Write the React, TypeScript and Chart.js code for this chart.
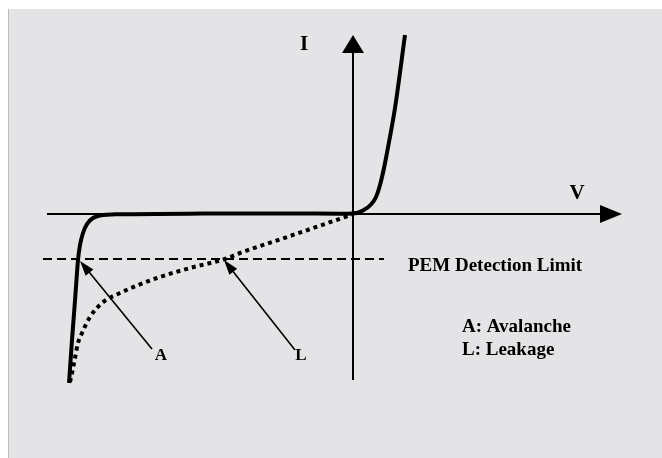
import React, { useEffect, useRef } from "react";
import { Chart, registerables } from "chart.js";

Chart.register(...registerables);

// Avalanche / forward characteristic (solid): V and I in arbitrary units
const solidV = [-28.4, -28.1, -27.87, -27.68, -27.5, -27.3, -27.0, -26.6, -26.0, -25.3, -23.3, -15.0, -6.0, -1.3, 0.0, 1.0, 1.8, 2.3, 2.7, 3.1, 3.6, 4.2, 5.2];
const solidI = [-16.9, -12.6, -9.6, -7.0, -4.6, -3.1, -1.9, -1.0, -0.4, -0.15, -0.03, 0.04, 0.05, 0.03, 0.05, 0.35, 0.95, 1.7, 2.9, 4.6, 7.2, 10.6, 17.9];

// Leakage characteristic (dotted)
const leakV = [-28.3, -28.1, -27.8, -27.5, -27.1, -26.3, -25.1, -23.3, -19.6, -16.3, -12.8, -11.3, -6.3, -1.8, -0.1];
const leakI = [-16.8, -15.9, -14.4, -12.9, -11.9, -10.3, -8.9, -7.9, -6.4, -5.4, -4.5, -3.9, -2.2, -0.65, -0.05];

// PEM detection limit (dashed)
const limitI = -4.5;
const limitV = [-31.0, 3.1];

// Axes extents
const axisV = [-30.6, 26.9];
const axisI = [-16.6, 17.9];

// Pointer arrows (A, L)
const pointerLabels = ["A", "L"];
const pointerFromV = [-20.1, -5.8];
const pointerFromI = [-13.5, -13.6];
const pointerToV = [-27.3, -12.9];
const pointerToI = [-4.7, -4.6];
const pointerLabelV = [-19.2, -5.2];
const pointerLabelI = [-14.2, -14.2];

// Text labels
const axisLabels = ["I", "V"];
const axisLabelV = [-4.9, 22.4];
const axisLabelI = [16.9, 2.0];
const noteTexts = ["PEM Detection Limit", "A: Avalanche", "L: Leakage"];
const noteV = [5.5, 10.9, 10.9];
const noteI = [-5.2, -11.35, -13.65];

const FONT = "'Liberation Serif', 'Times New Roman', serif";

function drawArrow(ctx: CanvasRenderingContext2D, x1: number, y1: number, x2: number, y2: number, lw: number, hl: number, hw: number) {
  const dx = x2 - x1, dy = y2 - y1;
  const len = Math.hypot(dx, dy);
  const ux = dx / len, uy = dy / len;
  const bx = x2 - ux * hl, by = y2 - uy * hl;
  ctx.save();
  ctx.strokeStyle = "#000";
  ctx.fillStyle = "#000";
  ctx.lineWidth = lw;
  ctx.setLineDash([]);
  ctx.beginPath();
  ctx.moveTo(x1, y1);
  ctx.lineTo(bx + ux * 1, by + uy * 1);
  ctx.stroke();
  ctx.beginPath();
  ctx.moveTo(x2, y2);
  ctx.lineTo(bx - uy * hw / 2, by + ux * hw / 2);
  ctx.lineTo(bx + uy * hw / 2, by - ux * hw / 2);
  ctx.closePath();
  ctx.fill();
  ctx.restore();
}

const axesPlugin = {
  id: "axesArrows",
  beforeDatasetsDraw(chart: any) {
    const ctx = chart.ctx;
    const xs = chart.scales.x, ys = chart.scales.y;
    const y0 = ys.getPixelForValue(0), x0 = xs.getPixelForValue(0);
    drawArrow(ctx, xs.getPixelForValue(axisV[0]), y0, xs.getPixelForValue(axisV[1]), y0, 2, 22, 18);
    drawArrow(ctx, x0, ys.getPixelForValue(axisI[0]), x0, ys.getPixelForValue(axisI[1]), 2, 18, 22);
  },
  afterDatasetsDraw(chart: any) {
    const ctx = chart.ctx;
    const xs = chart.scales.x, ys = chart.scales.y;
    for (let k = 0; k < pointerLabels.length; k++) {
      drawArrow(
        ctx,
        xs.getPixelForValue(pointerFromV[k]), ys.getPixelForValue(pointerFromI[k]),
        xs.getPixelForValue(pointerToV[k]), ys.getPixelForValue(pointerToI[k]),
        1.6, 15, 10
      );
    }
    ctx.save();
    ctx.fillStyle = "#000";
    ctx.textBaseline = "middle";
    ctx.textAlign = "center";
    ctx.font = `bold 17px ${FONT}`;
    for (let k = 0; k < pointerLabels.length; k++) {
      ctx.fillText(pointerLabels[k], xs.getPixelForValue(pointerLabelV[k]), ys.getPixelForValue(pointerLabelI[k]));
    }
    ctx.font = `bold 21px ${FONT}`;
    for (let k = 0; k < axisLabels.length; k++) {
      ctx.fillText(axisLabels[k], xs.getPixelForValue(axisLabelV[k]), ys.getPixelForValue(axisLabelI[k]));
    }
    ctx.textAlign = "left";
    ctx.font = `bold 19px ${FONT}`;
    for (let k = 0; k < noteTexts.length; k++) {
      ctx.fillText(noteTexts[k], xs.getPixelForValue(noteV[k]), ys.getPixelForValue(noteI[k]));
    }
    ctx.restore();
  },
};

export default function App() {
  const ref = useRef<HTMLCanvasElement | null>(null);
  useEffect(() => {
    if (!ref.current) return;
    const solid = solidV.map((v, i) => ({ x: v, y: solidI[i] }));
    const leak = leakV.map((v, i) => ({ x: v, y: leakI[i] }));
    const limit = limitV.map((v) => ({ x: v, y: limitI }));
    const chart = new Chart(ref.current, {
      type: "scatter",
      data: {
        datasets: [
          {
            label: "Avalanche",
            data: solid,
            showLine: true,
            borderColor: "#000",
            borderWidth: 4,
            pointRadius: 0,
            cubicInterpolationMode: "monotone",
            clip: false,
          } as any,
          {
            label: "Leakage",
            data: leak,
            showLine: true,
            borderColor: "#000",
            borderWidth: 4,
            borderDash: [4, 4],
            borderCapStyle: "butt",
            pointRadius: 0,
            cubicInterpolationMode: "monotone",
            clip: false,
          } as any,
          {
            label: "PEM Detection Limit",
            data: limit,
            showLine: true,
            borderColor: "#000",
            borderWidth: 1.8,
            borderDash: [9, 5],
            pointRadius: 0,
            clip: false,
          } as any,
        ],
      },
      options: {
        responsive: false,
        animation: false,
        devicePixelRatio: 1,
        layout: { padding: { left: 34, right: 39, top: 25, bottom: 74 } },
        scales: {
          x: { type: "linear", display: false, min: -31, max: 27 },
          y: { type: "linear", display: false, min: -17, max: 18 },
        },
        plugins: { legend: { display: false }, tooltip: { enabled: false } },
        events: [],
      },
      plugins: [axesPlugin],
    });
    return () => chart.destroy();
  }, []);
  return (
    <div
      style={{
        position: "absolute",
        left: 8,
        top: 9,
        width: 653,
        height: 449,
        background: "#e4e4e6",
        borderLeft: "1px solid #bcbcbc",
      }}
    >
      <canvas ref={ref} width={653} height={449} style={{ display: "block" }} />
    </div>
  );
}
